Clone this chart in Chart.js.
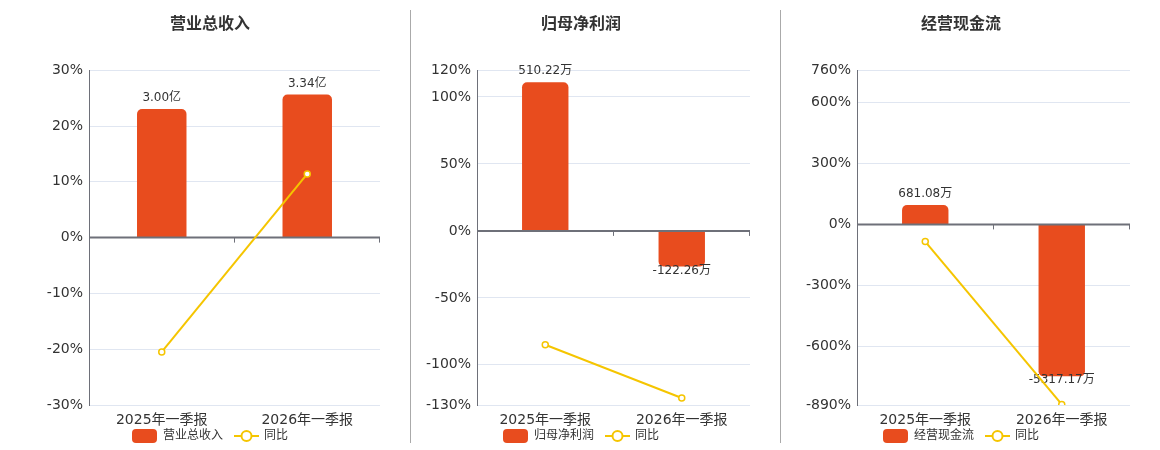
<!DOCTYPE html>
<html lang="zh">
<head>
    <meta charset="UTF-8">
    <title>季报对比</title>
    <style>
        body { margin: 0; background: #fff; }
        .wrap { position: relative; width: 1160px; height: 450px; }
        .box { position: absolute; top: 0; height: 450px; }
        .sep { position: absolute; top: 10px; height: 433px; width: 0; border-left: 1px solid #aaa; }
    </style>
</head>
<body>
<div class="wrap">
    <div class="box" style="left:0;width:420px"><canvas id="grafico1"></canvas></div>
    <div class="sep" style="left:410px"></div>
    <div class="box" style="left:411px;width:340px"><canvas id="grafico2"></canvas></div>
    <div class="sep" style="left:780px"></div>
    <div class="box" style="left:781px;width:360px"><canvas id="grafico3"></canvas></div>
</div>

<script src="https://cdn.jsdelivr.net/npm/chart.js"></script>
<script type="text/javascript">
    // datos
    var periodos = ['2025年一季报', '2026年一季报'];

    var ingresos = [3.00, 3.34];          // 亿
    var ingresosYoy = [-20.5, 11.4];      // %
    var ingresosTicks = [30, 20, 10, 0, -10, -20, -30];

    var beneficio = [510.22, -122.26];    // 万
    var beneficioYoy = [-85.0, -124.8];
    var beneficioTicks = [120, 100, 50, 0, -50, -100, -130];

    var flujo = [681.08, -5317.17];       // 万
    var flujoYoy = [-84.4, -887];
    var flujoTicks = [760, 600, 300, 0, -300, -600, -890];

    var rojo = '#e84c1e';
    var amarillo = '#f5c500';
    var fuente = "'DejaVu Sans', 'Noto Sans CJK SC', sans-serif";

    // eje cero, marcas y etiquetas de las barras
    var ejeCero = {
        id: 'ejeCero',
        afterDatasetDraw: function (chart, args) {
            if (args.index !== 0) return;
            var ctx = chart.ctx;
            var area = chart.chartArea;
            var y0 = chart.scales.y.getPixelForValue(0);
            ctx.save();
            ctx.strokeStyle = '#6e7079';
            ctx.lineWidth = 2;
            ctx.beginPath();
            ctx.moveTo(area.left, y0);
            ctx.lineTo(area.right, y0);
            ctx.stroke();
            ctx.lineWidth = 1;
            var n = chart.data.labels.length;
            for (var i = 1; i <= n; i++) {
                var x = Math.round(area.left + (area.right - area.left) * i / n) - 0.5;
                ctx.beginPath();
                ctx.moveTo(x, y0);
                ctx.lineTo(x, y0 + 5);
                ctx.stroke();
            }
            var meta = chart.getDatasetMeta(0);
            var ds = chart.data.datasets[0];
            ctx.fillStyle = '#333';
            ctx.font = '12px ' + fuente;
            ctx.textAlign = 'center';
            ctx.textBaseline = 'middle';
            meta.data.forEach(function (bar, i) {
                var v = ds.data[i];
                var txt = v.toFixed(2) + ds.unidad;
                if (v >= 0) ctx.fillText(txt, bar.x, bar.y - 11);
                else ctx.fillText(txt, bar.x, bar.y + 4);
            });
            ctx.restore();
        }
    };

    // leyenda abajo, centrada en el canvas
    var leyenda = {
        id: 'leyenda',
        afterDraw: function (chart) {
            var ctx = chart.ctx;
            var ds = chart.data.datasets;
            ctx.save();
            ctx.font = '12px ' + fuente;
            var w1 = ctx.measureText(ds[0].label).width;
            var w2 = ctx.measureText(ds[1].label).width;
            var total = 25 + 6 + w1 + 11 + 25 + 5 + w2;
            var x = Math.round(chart.width / 2 - total / 2);
            var y = 436;
            ctx.fillStyle = rojo;
            ctx.beginPath();
            ctx.roundRect(x, y - 7, 25, 14, 4);
            ctx.fill();
            ctx.fillStyle = '#333';
            ctx.textAlign = 'left';
            ctx.textBaseline = 'middle';
            ctx.fillText(ds[0].label, x + 31, y);
            var x2 = x + 31 + w1 + 11;
            ctx.strokeStyle = amarillo;
            ctx.lineWidth = 2;
            ctx.beginPath();
            ctx.moveTo(x2, y); ctx.lineTo(x2 + 25, y);
            ctx.stroke();
            ctx.beginPath();
            ctx.arc(x2 + 12.5, y, 5, 0, Math.PI * 2);
            ctx.fillStyle = '#fff';
            ctx.fill();
            ctx.stroke();
            ctx.fillStyle = '#333';
            ctx.fillText(ds[1].label, x2 + 30, y);
            ctx.restore();
        }
    };

    function drawChart(elemento, titulo, valores, unidad, yoy, ticks, ratio, izquierda, derecha) {
        var Canvas = document.getElementById(elemento);
        var yMax = ticks[0];
        var yMin = ticks[ticks.length - 1];
        return new Chart(Canvas, {
            data: {
                labels: periodos,
                datasets: [{
                    type: 'bar',
                    label: titulo,
                    data: valores,
                    unidad: unidad,
                    yAxisID: 'y2',
                    backgroundColor: rojo,
                    borderRadius: 5,
                    borderSkipped: 'start',
                    barPercentage: 0.34,
                    categoryPercentage: 1,
                    order: 2
                }, {
                    type: 'line',
                    label: '同比',
                    data: yoy,
                    yAxisID: 'y',
                    borderColor: amarillo,
                    borderWidth: 2,
                    pointRadius: 3,
                    pointBorderWidth: 1.5,
                    pointBackgroundColor: '#fff',
                    pointBorderColor: amarillo,
                    tension: 0,
                    order: 1
                }]
            },
            options: {
                responsive: false,
                animation: false,
                layout: { autoPadding: false, padding: { left: 0, right: 0, top: 0, bottom: 21 } },
                plugins: {
                    title: {
                        display: true,
                        text: titulo,
                        color: '#333',
                        font: { family: fuente, size: 16, weight: 'bold' },
                        padding: { top: 15, bottom: 36 }
                    },
                    legend: { display: false },
                    tooltip: { enabled: false }
                },
                scales: {
                    x: {
                        type: 'category',
                        grid: { display: false, drawTicks: false },
                        border: { display: false },
                        ticks: { color: '#333', font: { family: fuente, size: 14 }, padding: 7 },
                        afterFit: function (s) { s.height = 24; }
                    },
                    y: {
                        position: 'left',
                        min: yMin,
                        max: yMax,
                        afterBuildTicks: function (s) {
                            s.ticks = ticks.map(function (v) { return { value: v }; });
                        },
                        afterFit: function (s) { s.width = izquierda; },
                        grid: {
                            drawTicks: false,
                            color: function (c) { return c.tick && c.tick.value === 0 ? 'rgba(0,0,0,0)' : '#e0e6f1'; }
                        },
                        border: { display: true, color: '#6e7079', width: 1 },
                        ticks: {
                            color: '#333',
                            padding: 6,
                            font: { family: fuente, size: 14 },
                            callback: function (v) { return v + '%'; }
                        }
                    },
                    y2: {
                        position: 'right',
                        min: yMin * ratio,
                        max: yMax * ratio,
                        grid: { display: false, drawTicks: false },
                        border: { display: false },
                        ticks: { display: false },
                        afterFit: function (s) { s.width = derecha; }
                    }
                }
            },
            plugins: [ejeCero, leyenda]
        });
    }

    function prepararCanvas(id) {
        var c = document.getElementById(id);
        c.width = c.parentNode.clientWidth;
        c.height = 450;
        c.style.width = c.width + 'px';
        c.style.height = '450px';
    }
    prepararCanvas('grafico1');
    prepararCanvas('grafico2');
    prepararCanvas('grafico3');

    drawChart('grafico1', '营业总收入', ingresos, '亿', ingresosYoy, ingresosTicks, 0.1302, 89, 40);
    drawChart('grafico2', '归母净利润', beneficio, '万', beneficioYoy, beneficioTicks, 4.60, 66, 1);
    drawChart('grafico3', '经营现金流', flujo, '万', flujoYoy, flujoTicks, 7.1, 76, 11);
</script>
</body>
</html>
